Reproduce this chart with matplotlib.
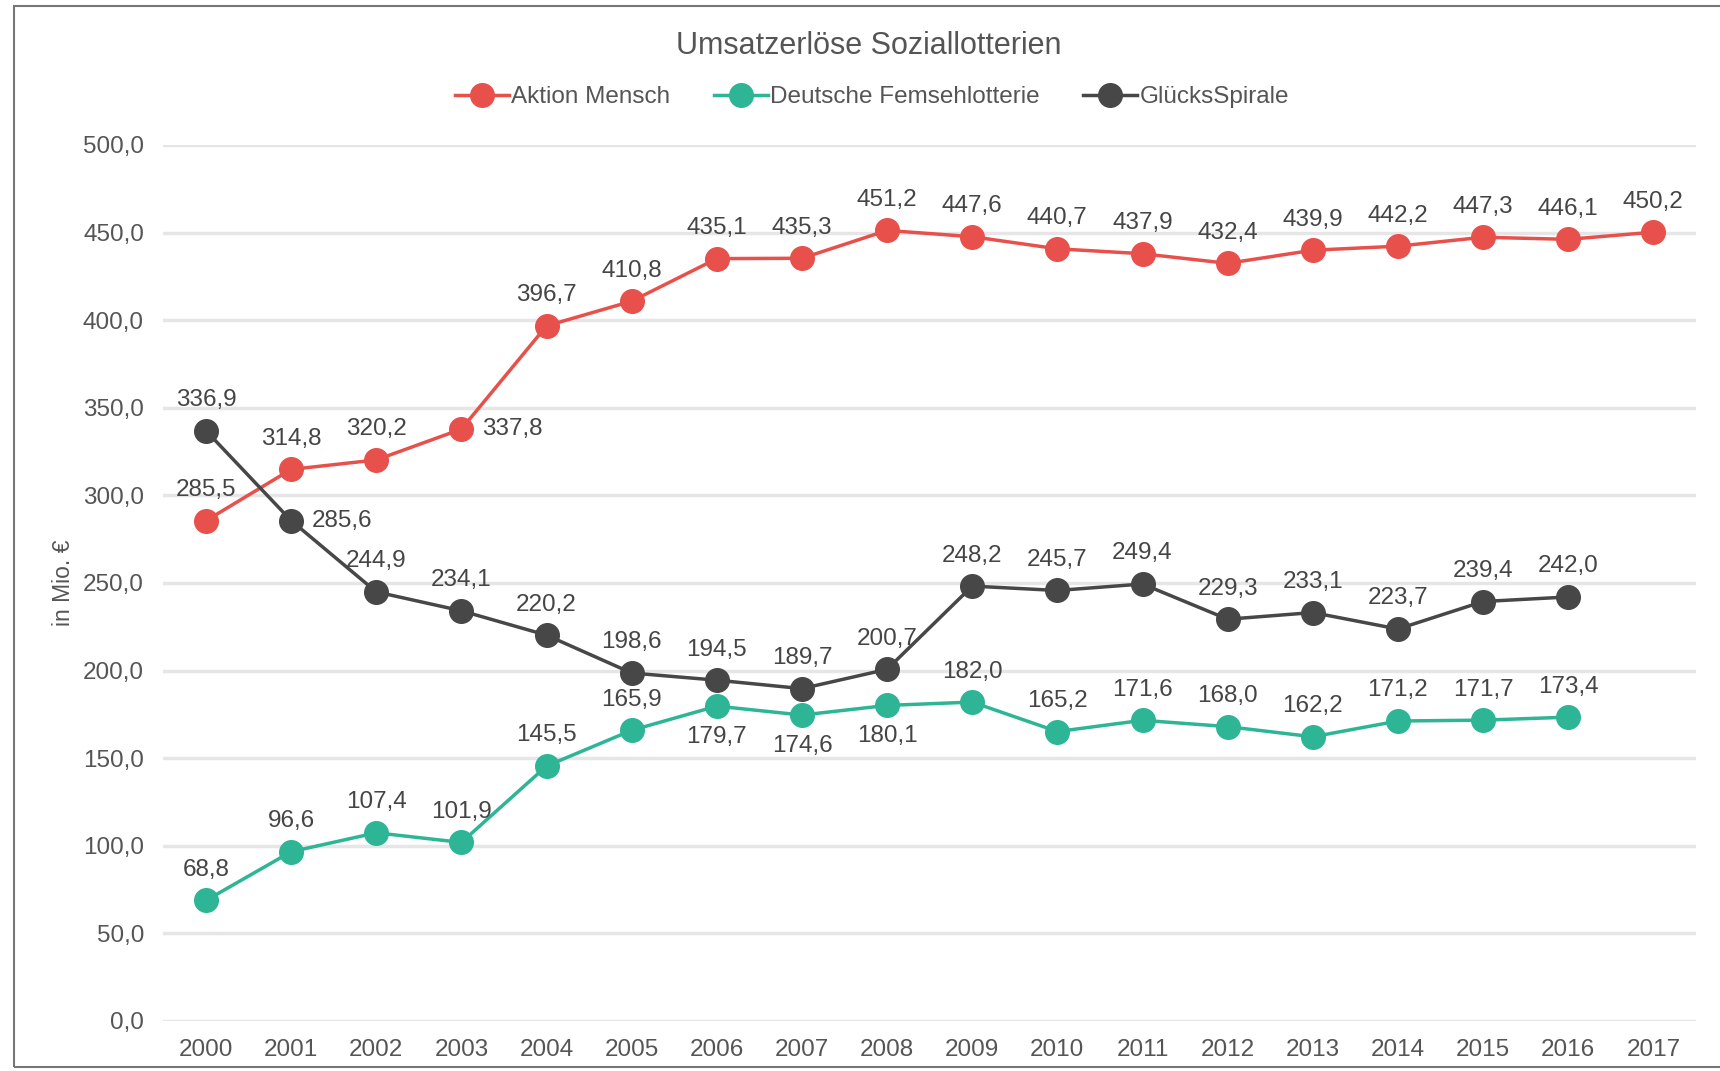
import matplotlib.pyplot as plt
import numpy as np

years = [str(y) for y in range(2000, 2018)]

aktion_mensch = [285.5, 314.8, 320.2, 337.8, 396.7, 410.8, 435.1, 435.3, 451.2,
                 447.6, 440.7, 437.9, 432.4, 439.9, 442.2, 447.3, 446.1, 450.2]
fernsehlotterie = [68.8, 96.6, 107.4, 101.9, 145.5, 165.9, 179.7, 174.6, 180.1,
                   182.0, 165.2, 171.6, 168.0, 162.2, 171.2, 171.7, 173.4]
gluecksspirale = [336.9, 285.6, 244.9, 234.1, 220.2, 198.6, 194.5, 189.7, 200.7,
                  248.2, 245.7, 249.4, 229.3, 233.1, 223.7, 239.4, 242.0]

series_names = ["Aktion Mensch", "Deutsche Femsehlotterie", "GlücksSpirale"]
y_ticks = [0, 50, 100, 150, 200, 250, 300, 350, 400, 450, 500]

red = "#E8504C"
teal = "#2DB596"
dark = "#474747"
label_col = "#454545"

plt.rcParams['font.family'] = ['Liberation Sans', 'DejaVu Sans']

fig = plt.figure(figsize=(17.2, 10.71), dpi=100)
ax = fig.add_axes([0.095, 0.0467, 0.891, 0.818])

x = np.arange(len(years))

series = [
    (aktion_mensch, red),
    (fernsehlotterie, teal),
    (gluecksspirale, dark),
]
for (vals, col), name in zip(series, series_names):
    ax.plot(x[:len(vals)], vals, color=col, lw=2.5, marker='o', ms=17,
            mec=col, mfc=col, label=name, zorder=3)

# label placement: default above, some exceptions
def put(vals, special):
    for i, v in enumerate(vals):
        txt = f"{v:.1f}".replace('.', ',')
        pos = special.get(i, 'above')
        if pos == 'above':
            ax.annotate(txt, (x[i], v), xytext=(0, 22), textcoords='offset points',
                        ha='center', va='center', fontsize=17.5, color=label_col)
        elif pos == 'below':
            ax.annotate(txt, (x[i], v), xytext=(0, -22), textcoords='offset points',
                        ha='center', va='center', fontsize=17.5, color=label_col)
        else:
            ax.annotate(txt, (x[i], v), xytext=(15, 0), textcoords='offset points',
                        ha='left', va='center', fontsize=17.5, color=label_col)

put(aktion_mensch, {3: 'right'})
put(fernsehlotterie, {6: 'below', 7: 'below', 8: 'below'})
put(gluecksspirale, {1: 'right'})

ax.set_xlim(-0.5, len(years) - 0.5)
ax.set_ylim(0, 500)
ax.set_xticks(x)
ax.set_xticklabels(years)
ax.set_yticks(y_ticks)
ax.set_yticklabels([f"{t:.1f}".replace('.', ',') for t in y_ticks])
ax.tick_params(length=0, labelsize=17.5, labelcolor="#555555", pad=14)
ax.tick_params(axis='x', pad=13)
ax.grid(axis='y', color="#E6E6E6", lw=2.5, zorder=0)
for s in ax.spines.values():
    s.set_visible(False)
ax.set_ylabel("in Mio. €", fontsize=16.5, color="#555555", labelpad=6)

fig.text(0.505, 0.957, "Umsatzerlöse Soziallotterien", ha='center', va='center',
         fontsize=22, color="#555555")
fig.legend(loc='center', bbox_to_anchor=(0.507, 0.909), ncol=3, frameon=False,
           fontsize=17.5, handlelength=2.2, handletextpad=0.1, columnspacing=1.8,
           labelcolor="#555555")

# outer frame
fig.add_artist(plt.Rectangle((0.008, 0.004), 1.2, 0.99, transform=fig.transFigure,
                             fill=False, edgecolor="#777777", lw=1.5))

fig.savefig("out.png", dpi=100)
